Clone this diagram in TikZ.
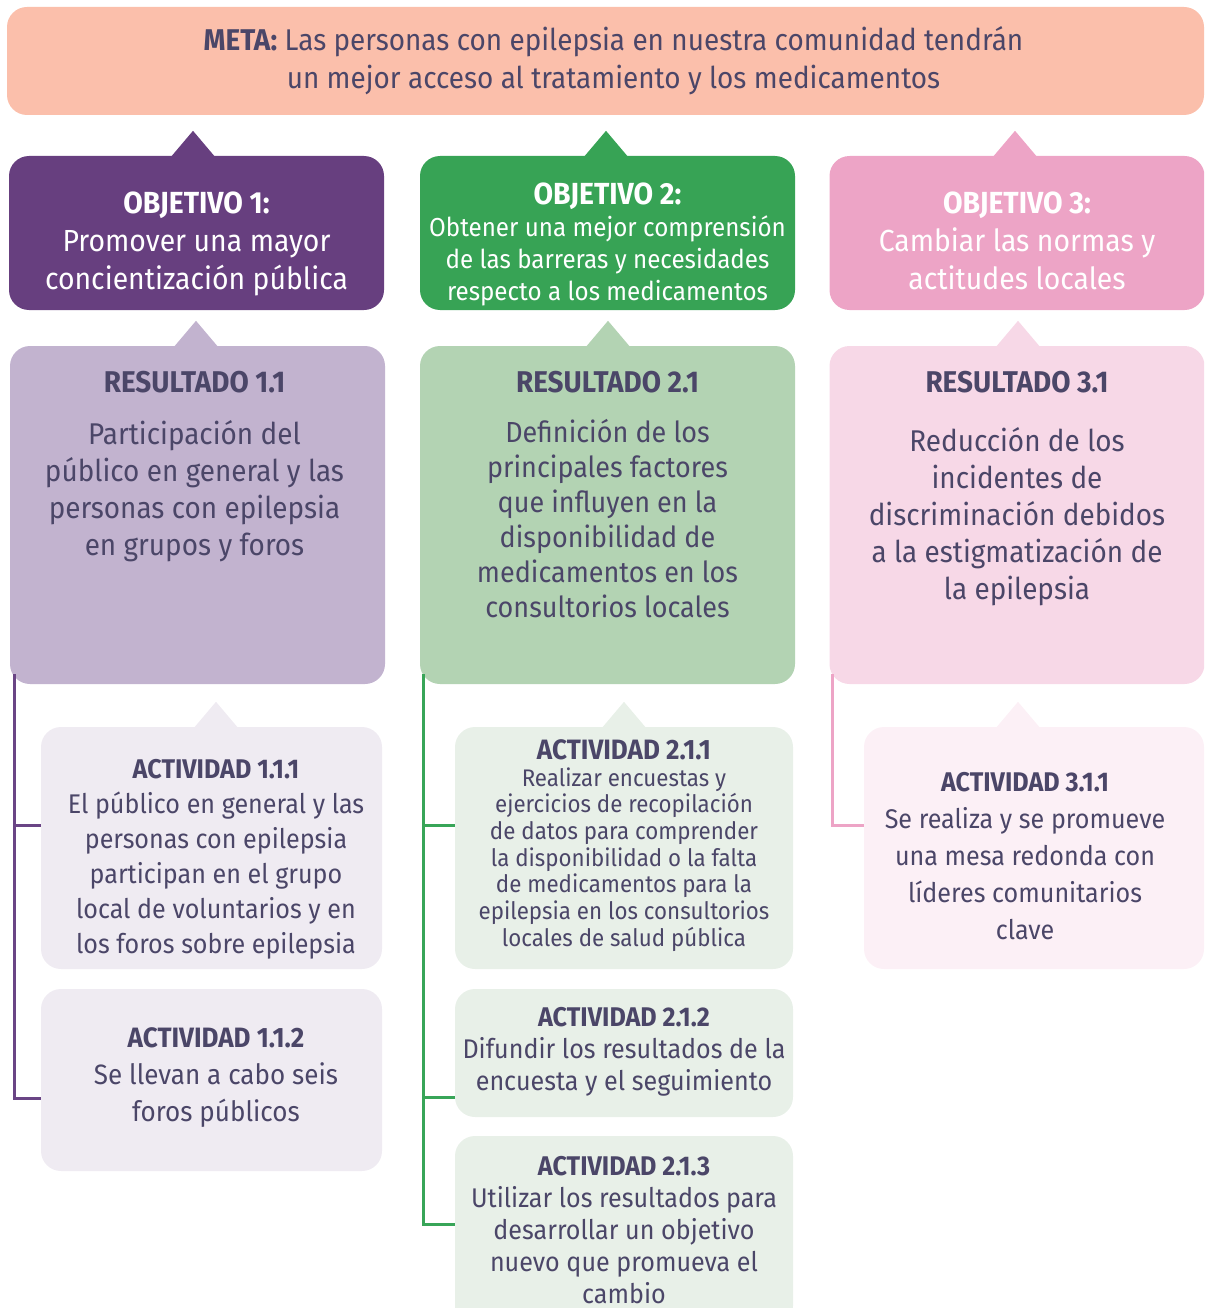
\documentclass[tikz,border=0pt]{standalone}
\usepackage{fontspec}
\setmainfont{Fira Sans}[FakeStretch=0.93]
\usetikzlibrary{positioning,calc}
\definecolor{TextDark}{HTML}{4B4668}
\definecolor{MetaBg}{HTML}{FBBFAB}
\definecolor{ObjPurple}{HTML}{673F7F}
\definecolor{ObjGreen}{HTML}{37A355}
\definecolor{ObjPink}{HTML}{EDA4C6}
\definecolor{ResPurple}{HTML}{C2B3CF}
\definecolor{ResGreen}{HTML}{B3D3B3}
\definecolor{ResPink}{HTML}{F7D8E7}
\definecolor{ActPurple}{HTML}{EFEBF2}
\definecolor{ActGreen}{HTML}{E8F0E8}
\definecolor{ActPink}{HTML}{FCF0F6}
\definecolor{LinePurple}{HTML}{6A4585}
\definecolor{LineGreen}{HTML}{38A558}
\definecolor{LinePink}{HTML}{EDA4C6}

\begin{document}
\begin{tikzpicture}[x=1pt,y=-1pt,
  every node/.style={align=center,text=TextDark,inner sep=0pt},
  objbox/.style={rounded corners=20pt,minimum width=375pt,minimum height=154pt},
  objtext/.style={text=white,font=\fontsize{30.5}{38}\selectfont},
  resbox/.style={rounded corners=20pt,minimum width=375pt,minimum height=338pt},
  actbox/.style={rounded corners=20pt,minimum width=341pt},
  acttext/.style={font=\fontsize{27}{35}\selectfont},
  restitle/.style={font=\fontsize{30}{36}\selectfont\bfseries},
  resbody/.style={font=\fontsize{30}{37}\selectfont},
  ln/.style={line width=3pt}]
  \clip (0,0) rectangle (1204,1308);

  % meta
  \node[fill=MetaBg,rounded corners=20pt,minimum width=1197pt,minimum height=108pt]
    (meta) at (605.5,61) {};
  \node[font=\fontsize{30}{38}\selectfont] (metat) at ([xshift=8pt]meta.center)
    {\textbf{META:} Las personas con epilepsia en nuestra comunidad tendrán\\
     un mejor acceso al tratamiento y los medicamentos};

  % objetivos
  \node[objbox,fill=ObjPurple] (o1) at (196.5,233) {};
  \node[objbox,fill=ObjGreen]  (o2) at (607.5,233) {};
  \node[objbox,fill=ObjPink]   (o3) at (1017,233) {};
  \node[objtext] (o1t) at ([yshift=-11pt]o1.center)
    {\textbf{OBJETIVO 1:}\\Promover una mayor\\concientización pública};
  \node[objtext,font=\fontsize{26}{32}\selectfont] (o2t) at ([yshift=-11pt]o2.center)
    {{\fontsize{30.5}{34}\selectfont\textbf{OBJETIVO 2:}}\\Obtener una mejor comprensión\\
     de las barreras y necesidades\\respecto a los medicamentos};
  \node[objtext] (o3t) at ([yshift=-8pt]o3.center)
    {\textbf{OBJETIVO 3:}\\Cambiar las normas y\\actitudes locales};

  % resultados
  \node[resbox,fill=ResPurple] (r1) at (197.5,515) {};
  \node[resbox,fill=ResGreen]  (r2) at (607.5,515) {};
  \node[resbox,fill=ResPink]   (r3) at (1017,515) {};
  \node[restitle] (r1t) at ([xshift=-3pt,yshift=-36pt]r1.north) {RESULTADO 1.1};
  \node[restitle] (r2t) at ([yshift=-36pt]r2.north) {RESULTADO 2.1};
  \node[restitle] (r3t) at ([yshift=-36pt]r3.north) {RESULTADO 3.1};
  \node[resbody] (r1b) at ([xshift=-3pt,yshift=-145pt]r1.north)
    {Participación del\\público en general y las\\personas con epilepsia\\en grupos y foros};
  \node[resbody,font=\fontsize{29}{35}\selectfont] (r2b) at ([yshift=-173pt]r2.north)
    {Definición de los\\principales factores\\que influyen en la\\disponibilidad de\\
     medicamentos en los\\consultorios  locales};
  \node[resbody] (r3b) at ([yshift=-171pt]r3.north)
    {Reducción de los\\incidentes de\\discriminación debidos\\a la estigmatización de\\la  epilepsia};

  % actividades
  \node[actbox,fill=ActPurple,minimum height=242pt] (a111) at (211.5,848) {};
  \node[actbox,fill=ActPurple,minimum height=182pt] (a112) at (211.5,1080) {};
  \node[actbox,fill=ActGreen,minimum width=338pt,minimum height=242pt] (a211) at (624,848) {};
  \node[actbox,fill=ActGreen,minimum width=338pt,minimum height=128pt] (a212) at (624,1053) {};
  \node[actbox,fill=ActGreen,minimum width=338pt,minimum height=190pt] (a213) at (624,1231) {};
  \node[actbox,fill=ActPink,minimum width=340pt,minimum height=242pt] (a311) at (1034,848) {};

  \node[acttext] (a111t) at ([xshift=4.5pt,yshift=-11.5pt]a111.center)
    {\textbf{ACTIVIDAD 1.1.1}\\El público en general y las\\personas con epilepsia\\
     participan en el grupo\\local de voluntarios y en\\los foros sobre epilepsia};
  \node[acttext,font=\fontsize{28}{37}\selectfont] (a112t) at ([xshift=4.5pt,yshift=2pt]a112.center)
    {\textbf{ACTIVIDAD 1.1.2}\\Se llevan a cabo seis\\foros públicos};
  \node[acttext,font=\fontsize{24}{26.7}\selectfont] (a211t) at ([yshift=2.5pt]a211.center)
    {{\fontsize{28}{28}\selectfont\textbf{ACTIVIDAD 2.1.1}}\\Realizar encuestas y\\
     ejercicios de recopilación\\de datos para comprender\\la disponibilidad o la falta\\
     de medicamentos para la\\epilepsia en los consultorios\\locales de salud pública};
  \node[acttext,font=\fontsize{27}{32}\selectfont] (a212t) at ([yshift=1.5pt]a212.center)
    {\textbf{ACTIVIDAD 2.1.2}\\Difundir los resultados de la\\encuesta y el seguimiento};
  \node[acttext,font=\fontsize{27}{32}\selectfont] (a213t) at ([yshift=1pt]a213.center)
    {\textbf{ACTIVIDAD 2.1.3}\\Utilizar los resultados para\\desarrollar un objetivo\\
     nuevo que promueva el\\cambio};
  \node[acttext,font=\fontsize{27}{37}\selectfont] (a311t) at ([xshift=-9pt,yshift=-8pt]a311.center)
    {\textbf{ACTIVIDAD 3.1.1}\\Se realiza y se promueve\\una mesa redonda con\\
     líderes comunitarios\\clave};

  % puntas
  \foreach \n/\c/\dx in {o1/ObjPurple/-3.5,o2/ObjGreen/-1.5,o3/ObjPink/-2,
                         r1/ResPurple/-1.5,r2/ResGreen/0.5,r3/ResPink/1,
                         a111/ActPurple/4.5,a211/ActGreen/0,a311/ActPink/-16}
    \fill[\c] ([xshift=\dx pt-22pt,yshift=-1pt]\n.north) -- ([xshift=\dx pt,yshift=25pt]\n.north)
      -- ([xshift=\dx pt+22pt,yshift=-1pt]\n.north) -- cycle;

  % conectores
  \draw[ln,LinePurple] ([xshift=5pt,yshift=10pt]r1.south west) |- ([yshift=23pt]a111.west);
  \draw[ln,LinePurple] ([xshift=5pt,yshift=10pt]r1.south west) |- ([yshift=-18pt]a112.west);
  \draw[ln,LineGreen] ([xshift=4pt,yshift=10pt]r2.south west) |- ([yshift=23pt]a211.west);
  \draw[ln,LineGreen] ([xshift=4pt,yshift=10pt]r2.south west) |- ([yshift=-44pt]a212.west);
  \draw[ln,LineGreen] ([xshift=4pt,yshift=10pt]r2.south west) |- ([yshift=7pt]a213.west);
  \draw[ln,LinePink] ([xshift=3pt,yshift=10pt]r3.south west) |- ([yshift=23pt]a311.west);
\end{tikzpicture}
\end{document}
